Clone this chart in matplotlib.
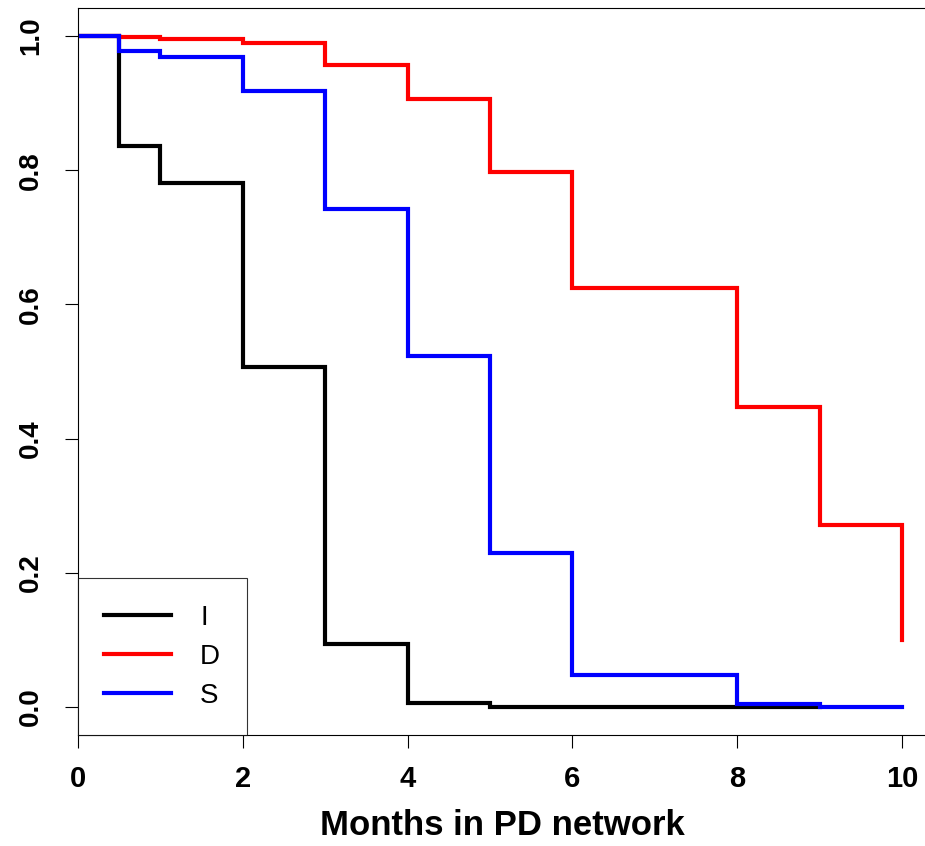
import matplotlib
matplotlib.use("Agg")
import matplotlib.pyplot as plt

plt.rcParams['font.family'] = ['Liberation Sans', 'DejaVu Sans']

# Kaplan-Meier style step curves (time of change, survival after the change)
t_I = [0, 0.5, 1, 2, 3, 4, 5, 9]
s_I = [1.0, 0.836, 0.781, 0.507, 0.094, 0.006, 0.0, 0.0]

t_D = [0, 0.5, 1, 2, 3, 4, 5, 6, 8, 9, 10]
s_D = [1.0, 0.998, 0.995, 0.989, 0.957, 0.906, 0.797, 0.624, 0.447, 0.271, 0.1]

t_S = [0, 0.5, 1, 2, 3, 4, 5, 6, 8, 9, 10]
s_S = [1.0, 0.978, 0.969, 0.918, 0.742, 0.523, 0.229, 0.048, 0.005, 0.0, 0.0]

labels = ['I', 'D', 'S']
colors = ['black', 'red', 'blue']

fig = plt.figure(figsize=(9.25, 8.46), dpi=100)
ax = fig.add_axes([0.0843, 0.1312, 0.9175, 0.8593])

for t, s, lab, c in zip([t_I, t_D, t_S], [s_I, s_D, s_S], labels, colors):
    ax.step(t, s, where='post', color=c, lw=3, label=lab, solid_joinstyle='miter')

ax.set_xlim(0, 10.3)
ax.set_ylim(-0.0417, 1.0417)
ax.set_xticks([0, 2, 4, 6, 8, 10])
ax.set_yticks([0.0, 0.2, 0.4, 0.6, 0.8, 1.0])
ax.set_yticklabels(['0.0', '0.2', '0.4', '0.6', '0.8', '1.0'])
ax.tick_params(length=9.4, width=0.8)
ax.tick_params(axis='x', pad=12, labelsize=21)
ax.tick_params(axis='y', pad=15, labelsize=20, labelrotation=90)
for lbl in ax.get_yticklabels():
    lbl.set_va('center')
for lbl in ax.get_xticklabels() + ax.get_yticklabels():
    lbl.set_fontweight('bold')
for sp in ax.spines.values():
    sp.set_linewidth(0.8)

ax.set_xlabel('Months in PD network', fontsize=25, fontweight='bold', labelpad=12)

leg = ax.legend(loc='lower left', bbox_to_anchor=(0, 0), borderaxespad=0,
                fontsize=20, frameon=True, fancybox=False, edgecolor='black',
                borderpad=0.95, labelspacing=0.47, handlelength=2.4,
                handletextpad=1.05)
leg.get_frame().set_linewidth(0.8)

fig.savefig('out.png', dpi=100)
